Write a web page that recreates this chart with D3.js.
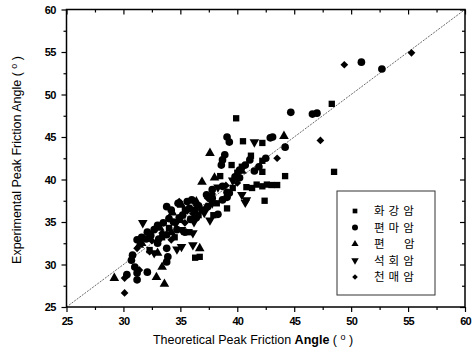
<!DOCTYPE html>
<html>
<head>
<meta charset="utf-8">
<script src="https://cdn.jsdelivr.net/npm/d3@7"></script>
<style>
  html, body { margin: 0; padding: 0; background: #fff; }
  svg { display: block; }
  .tick text { font-family: "Liberation Sans", Arial, sans-serif; font-weight: bold; font-size: 11px; letter-spacing: -0.8px; fill: #000; }
</style>
</head>
<body>
<script>
// Peak friction angle: theoretical (x) vs experimental (y), by rock type
const granite = [
  [39.9,47.2],[48.3,48.9],[40.5,44.5],[42.2,44.3],[48.5,40.9],[39.5,41.7],[41.2,42.8],[42.2,42.2],
  [42.2,40.9],[44.2,40.4],[38.5,40.4],[40.8,39.1],[41.3,39.0],[41.7,39.4],[42.2,39.2],[42.6,39.4],
  [43.0,39.35],[43.5,39.35],[42.4,37.5],[39.1,36.6],[36.3,30.8],[36.7,30.9],[40.0,40.8],[39.6,39.0],
  [35.4,36.4],[33.4,33.2],[34.5,33.2],[32.3,31.7],[31.2,29.35],[36.9,36.4],[38.2,37.2],[35.8,33.8],
  [40.4,41.5],[37.9,35.8],[34.0,34.3],[36.6,35.8]
];
const gneiss = [
  [44.7,47.9],[46.6,47.7],[47.0,47.8],[50.9,53.8],[52.7,53.0],[39.1,45.0],[39.3,44.4],[42.9,44.9],
  [43.1,45.0],[44.2,43.8],[38.9,42.9],[38.7,42.3],[38.6,41.7],[41.9,41.5],[42.5,42.5],[38.7,39.2],
  [37.8,38.8],[39.1,38.5],[39.1,37.9],[37.8,37.8],[37.3,38.2],[41.1,42.3],[40.7,41.7],[40.2,41.1],
  [39.8,40.3],[40.2,40.2],[39.3,38.4],[38.7,37.6],[33.8,36.8],[34.2,36.4],[34.8,37.2],[35.6,37.4],
  [36.0,37.6],[35.8,36.6],[36.3,36.4],[34.9,35.5],[33.0,34.6],[32.7,34.1],[32.1,33.8],[31.6,33.2],
  [31.2,32.9],[33.8,33.5],[34.7,34.1],[35.4,33.8],[33.0,32.5],[33.8,31.9],[33.9,30.9],[33.8,30.3],
  [30.7,30.5],[31.0,29.7],[31.2,29.0],[30.3,28.8],[31.2,28.2],[32.1,29.1],[37.4,36.8],[37.0,36.4],
  [36.4,35.5],[32.0,33.0],[30.8,31.1],[41.5,41.0],[32.4,33.4],[33.5,34.9],[34.0,35.4],[35.2,35.8],
  [36.6,36.9],[33.1,33.0],[35.9,35.3],[34.4,35.0],[38.3,35.9]
];
const schist = [
  [44.1,45.1],[37.6,43.1],[36.9,39.7],[29.2,28.4],[32.9,28.5],[33.6,27.7],[36.7,31.9],[35.1,37.0],
  [34.3,36.1],[33.2,34.3],[31.4,32.3],[33.0,31.35],[31.6,32.5],[34.2,33.8],[36.4,37.4],[38.0,40.2],
  [40.4,41.0],[35.0,35.2],[33.4,29.7]
];
const limestone = [
  [41.5,44.4],[38.3,39.1],[40.4,38.2],[40.7,37.3],[40.8,37.6],[31.7,34.9],[34.7,31.8],[35.1,32.1],
  [36.1,32.3],[35.1,34.1],[36.1,33.7],[32.7,31.35],[37.1,36.1],[34.6,34.8],[39.6,39.9],[36.2,35.0],
  [37.8,37.2],[37.6,35.2]
];
const phyllite = [
  [49.4,53.5],[55.3,54.9],[47.3,44.6],[43.5,42.5],[30.1,26.65],[30.1,28.4],[30.3,28.76],[31.2,31.9],
  [31.4,29.35],[32.3,31.5],[35.4,34.9],[34.9,37.4],[35.6,36.3],[36.4,37.0],[37.4,37.8],[37.8,38.3],
  [39.0,39.3],[40.0,39.6],[34.2,32.9],[32.5,32.8],[36.1,36.0],[33.4,33.7]
];

const seriesNames = ["화강암", "편마암", "편\u3000암", "석회암", "천매암"];
const seriesData = [granite, gneiss, schist, limestone, phyllite];
const seriesShapes = ["square", "circle", "triUp", "triDown", "diamond"];

const majorTicks = [25, 30, 35, 40, 45, 50, 55, 60];
const minorTicks = [27.5, 32.5, 37.5, 42.5, 47.5, 52.5, 57.5];
const domain = [25, 60];

const W = 475, H = 356;
const plotL = 66.5, plotR = 465, plotT = 9.5, plotB = 307;

const svg = d3.select("body").append("svg").attr("width", W).attr("height", H);

const x = d3.scaleLinear().domain(domain).range([plotL, plotR]);
const y = d3.scaleLinear().domain(domain).range([plotB, plotT]);

// 1:1 reference line
svg.append("line")
  .attr("x1", x(domain[0])).attr("y1", y(domain[0]))
  .attr("x2", x(domain[1])).attr("y2", y(domain[1]))
  .attr("stroke", "#444").attr("stroke-width", 0.8)
  .attr("stroke-dasharray", "2,1.2");

// markers (diamond drawn as a square turned 45 degrees)
const symbolFor = {
  square: d3.symbol(d3.symbolSquare, 40),
  circle: d3.symbol(d3.symbolCircle, 46),
  triUp: d3.symbol(d3.symbolTriangle, 40),
  triDown: d3.symbol(d3.symbolTriangle, 40),
  diamond: d3.symbol(d3.symbolSquare, 30)
};
const legendSymbol = {
  square: d3.symbol(d3.symbolSquare, 22),
  circle: d3.symbol(d3.symbolCircle, 28),
  triUp: d3.symbol(d3.symbolTriangle, 22),
  triDown: d3.symbol(d3.symbolTriangle, 24),
  diamond: d3.symbol(d3.symbolSquare, 16)
};
const rot = { triDown: " rotate(180)", diamond: " rotate(45)" };

seriesData.forEach((data, i) => {
  const shape = seriesShapes[i];
  svg.append("g").selectAll("path").data(data).join("path")
    .attr("d", symbolFor[shape]())
    .attr("transform", d => `translate(${x(d[0])},${y(d[1])})` + (rot[shape] || ""))
    .attr("fill", "#000");
});

// axes: outward ticks on left/bottom, inward mirrored ticks on top/right
function styleAxis(g) {
  g.select(".domain").remove();
  g.selectAll(".tick line").attr("stroke", "#000").attr("stroke-width", 1.2);
}
svg.append("g").attr("transform", `translate(0,${plotB})`)
  .call(d3.axisBottom(x).tickValues(majorTicks).tickSize(5).tickPadding(5).tickFormat(d3.format("d")))
  .call(styleAxis);
svg.append("g").attr("transform", `translate(0,${plotB})`)
  .call(d3.axisBottom(x).tickValues(minorTicks).tickSize(3).tickFormat(""))
  .call(styleAxis);
svg.append("g").attr("transform", `translate(${plotL},0)`)
  .call(d3.axisLeft(y).tickValues(majorTicks).tickSize(5).tickPadding(6).tickFormat(d3.format("d")))
  .call(styleAxis);
svg.append("g").attr("transform", `translate(${plotL},0)`)
  .call(d3.axisLeft(y).tickValues(minorTicks).tickSize(3).tickFormat(""))
  .call(styleAxis);
svg.append("g").attr("transform", `translate(0,${plotT})`)
  .call(d3.axisBottom(x).tickValues(majorTicks).tickSize(5).tickFormat(""))
  .call(styleAxis);
svg.append("g").attr("transform", `translate(0,${plotT})`)
  .call(d3.axisBottom(x).tickValues(minorTicks).tickSize(3).tickFormat(""))
  .call(styleAxis);
svg.append("g").attr("transform", `translate(${plotR},0)`)
  .call(d3.axisLeft(y).tickValues(majorTicks).tickSize(5).tickFormat(""))
  .call(styleAxis);
svg.append("g").attr("transform", `translate(${plotR},0)`)
  .call(d3.axisLeft(y).tickValues(minorTicks).tickSize(3).tickFormat(""))
  .call(styleAxis);

// frame
svg.append("rect")
  .attr("x", plotL).attr("y", plotT)
  .attr("width", plotR - plotL).attr("height", plotB - plotT)
  .attr("fill", "none").attr("stroke", "#000").attr("stroke-width", 1.5);

// axis titles
const xt = svg.append("text")
  .attr("x", 253).attr("y", 344)
  .attr("text-anchor", "middle")
  .attr("font-family", "Liberation Sans, Arial, sans-serif")
  .attr("font-size", 12.5).attr("fill", "#000");
xt.append("tspan").text("Theoretical Peak Friction ");
xt.append("tspan").attr("font-weight", "bold").text("Angle");
xt.append("tspan").text(" ( ");
xt.append("tspan").attr("dy", -4).attr("font-size", 9).text("o");
xt.append("tspan").attr("dy", 4).text(" )");

const yt = svg.append("text")
  .attr("transform", `translate(21,160) rotate(-90)`)
  .attr("text-anchor", "middle")
  .attr("font-family", "Liberation Sans, Arial, sans-serif")
  .attr("font-size", 12.5).attr("fill", "#000");
yt.append("tspan").text("Experimental Peak Friction Angle ( ");
yt.append("tspan").attr("dy", -4).attr("font-size", 9).text("o");
yt.append("tspan").attr("dy", 4).text(" )");

// legend
const lg = svg.append("g");
lg.append("rect")
  .attr("x", 337).attr("y", 191).attr("width", 98).attr("height", 104)
  .attr("fill", "#fff").attr("stroke", "#333").attr("stroke-width", 1);
const rowY = d3.scalePoint().domain(d3.range(seriesNames.length)).range([211, 277]);
seriesNames.forEach((name, i) => {
  const shape = seriesShapes[i];
  lg.append("path")
    .attr("d", legendSymbol[shape]())
    .attr("transform", `translate(355,${rowY(i)})` + (rot[shape] || ""))
    .attr("fill", "#000");
  lg.append("text")
    .attr("x", 374).attr("y", rowY(i)).attr("dy", "0.36em")
    .attr("font-family", "Noto Sans CJK KR, sans-serif")
    .attr("font-size", 11.5).attr("letter-spacing", 4)
    .attr("fill", "#000")
    .text(name);
});
</script>
</body>
</html>
